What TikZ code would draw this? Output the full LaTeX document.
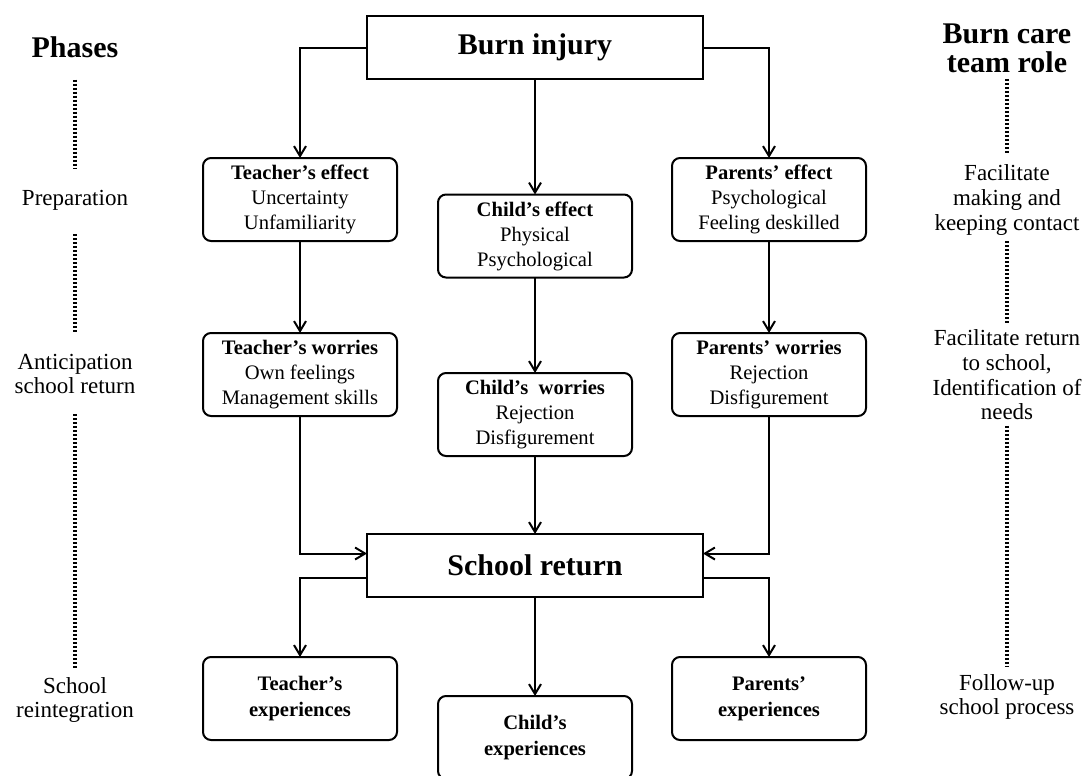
\documentclass[tikz,border=0pt]{standalone}
\usepackage{fontspec}
\setmainfont{Liberation Serif}
\usetikzlibrary{arrows.meta}
\tikzstyle{every node}=[inner sep=0pt, outer sep=0pt, align=center]
\tikzstyle{event}=[draw, minimum width=168pt, minimum height=31.5pt, font=\fontsize{15}{17}\selectfont\bfseries]
\tikzstyle{stage}=[draw, rounded corners=4pt, minimum width=97pt, minimum height=41.5pt, font=\fontsize{10.3}{12.5}\selectfont]
\tikzstyle{side}=[font=\fontsize{11.5}{12.3}\selectfont]
\tikzstyle{head}=[font=\fontsize{15}{14.5}\selectfont\bfseries]
\tikzstyle{phaseline}=[dash pattern=on 1pt off 1pt, line width=2pt]

\begin{document}
\begin{tikzpicture}[x=0.5pt, y=-0.5pt, line width=1pt, >={Straight Barb[length=5pt,width=6pt]}]
\useasboundingbox (0,0) rectangle (1088,776);
% Main events
    \node[event] (burn) at (535,47.5) {Burn injury};
    \node[event] (school) at (535,565.5) {School return};
% Effects
    \node[stage] (teff) at (300,199.5) {\textbf{Teacher's effect}\\Uncertainty\\Unfamiliarity};
    \node[stage] (ceff) at (535,236) {\textbf{Child's effect}\\Physical\\Psychological};
    \node[stage] (peff) at (769,199.5) {\textbf{Parents' effect}\\Psychological\\Feeling deskilled};
% Worries
    \node[stage] (twor) at (300,374.5) {\textbf{Teacher's worries}\\Own feelings\\Management skills};
    \node[stage] (cwor) at (535,414.5) {\textbf{Child's\ \ worries}\\Rejection\\Disfigurement};
    \node[stage] (pwor) at (769,374.5) {\textbf{Parents' worries}\\Rejection\\Disfigurement};
% Experiences
    \node[stage, font=\fontsize{10.3}{13}\selectfont\bfseries] (texp) at (300,698.5) {Teacher's\\experiences};
    \node[stage, font=\fontsize{10.3}{13}\selectfont\bfseries] (cexp) at (535,737.5) {Child's\\experiences};
    \node[stage, font=\fontsize{10.3}{13}\selectfont\bfseries] (pexp) at (769,698.5) {Parents'\\experiences};
% Arrows
    \draw[->] (burn) -| (teff);
    \draw[->] (burn) -- (ceff);
    \draw[->] (burn) -| (peff);
    \draw[->] (teff) -- (twor);
    \draw[->] (ceff) -- (cwor);
    \draw[->] (peff) -- (pwor);
    \draw[->] (twor) |- ([yshift=6pt]school.west);
    \draw[->] (cwor) -- (school);
    \draw[->] (pwor) |- ([yshift=6pt]school.east);
    \draw[->] ([yshift=-6pt]school.west) -| (texp);
    \draw[->] (school) -- (cexp);
    \draw[->] ([yshift=-6pt]school.east) -| (pexp);
% Phases
    \node[head] (phases) at (75,47) {Phases};
    \node[side] (prep) at (75,200) {Preparation};
    \node[side] (antic) at (75,374) {Anticipation\\school return};
    \node[side] (reint) at (75,700) {School\\reintegration};
    \draw[phaseline, shorten <=11pt, shorten >=11pt] (phases) -- (prep);
    \draw[phaseline, shorten <=12pt, shorten >=10pt] (prep) -- (antic);
    \draw[phaseline, shorten <=10pt, shorten >=4pt] (antic) -- (reint);
% Burn care team role
    \node[head] (role) at (1007,48.5) {Burn care\\team role};
    \node[side] (contact) at (1007,200) {Facilitate\\making and\\keeping contact};
    \node[side] (needs) at (1007,375) {Facilitate return\\to school,\\Identification of\\needs};
    \node[side] (follow) at (1007,697) {Follow-up\\school process};
    \draw[phaseline, shorten <=3pt, shorten >=6pt] (role) -- (contact);
    \draw[phaseline, shorten <=3pt, shorten >=3pt] (contact) -- (needs);
    \draw[phaseline, shorten <=3pt, shorten >=4pt] (needs) -- (follow);
\end{tikzpicture}
\end{document}
